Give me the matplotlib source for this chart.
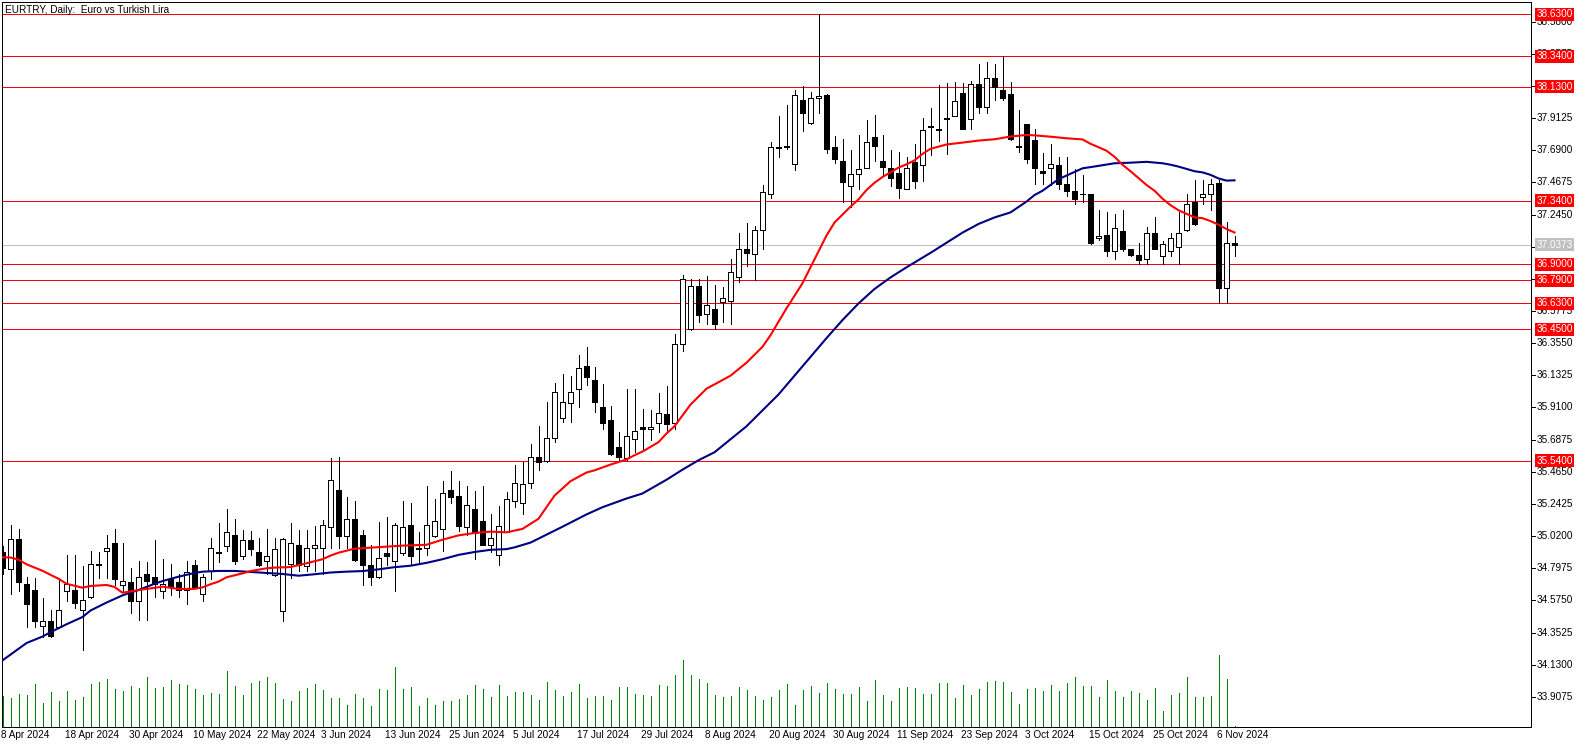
import numpy as np
import pandas as pd
import matplotlib
matplotlib.use("Agg")
import matplotlib.pyplot as plt
from matplotlib.transforms import blended_transform_factory

plt.rcParams['font.family'] = ['Liberation Sans', 'DejaVu Sans']

# daily EURTRY candles, 8 Apr 2024 .. 8 Nov 2024 (weekdays)
opens = [34.908, 34.79, 35.00, 34.69, 34.65, 34.40, 34.43, 34.39, 34.64, 34.65,
         34.51, 34.60, 34.83, 34.92, 34.97, 34.68, 34.70, 34.57, 34.76, 34.735,
         34.64, 34.72, 34.70, 34.65, 34.82, 34.62, 34.78, 34.91, 34.95, 35.03,
         34.88, 34.99, 34.91, 34.85, 34.75, 34.50, 34.83, 34.96, 34.81, 34.94,
         34.94, 35.085, 35.34, 35.02, 35.14, 35.03, 34.82, 34.74, 34.905, 34.85,
         34.90, 35.10, 34.93, 34.94, 35.02, 35.07, 35.34, 35.30, 35.08, 35.21,
         35.125, 34.955, 34.89, 35.05, 35.26, 35.25, 35.385, 35.565, 35.54, 35.70,
         35.84, 35.94, 36.035, 36.20, 36.10, 35.91, 35.82, 35.635, 35.56, 35.69,
         35.775, 35.76, 35.805, 35.865, 35.80, 36.35, 36.45, 36.75, 36.56, 36.59,
         36.64, 36.65, 36.81, 37.005, 36.97, 37.14, 37.39, 37.71, 37.71, 37.595,
         38.04, 37.88, 38.05, 38.075, 37.71, 37.615, 37.44, 37.525, 37.565, 37.78,
         37.615, 37.57, 37.53, 37.42, 37.61, 37.585, 37.85, 37.83, 37.91, 37.93,
         38.085, 37.905, 38.15, 37.99, 38.19, 38.105, 38.08, 37.72, 37.87, 37.76,
         37.547, 37.57, 37.59, 37.46, 37.405, 37.39, 37.39, 37.08, 37.105, 36.995,
         37.13, 37.005, 36.965, 36.935, 37.115, 36.96, 36.99, 37.02, 37.135, 37.33,
         37.365, 37.385, 37.465, 36.735, 37.046]
highs = [34.95, 35.10, 35.07, 34.74, 34.73, 34.59, 34.51, 34.73, 34.89, 34.89,
         34.81, 34.92, 34.91, 35.03, 35.07, 34.97, 34.80, 34.85, 34.84, 34.99,
         34.86, 34.825, 34.76, 34.85, 34.855, 34.76, 35.01, 35.11, 35.21, 35.14,
         35.06, 35.055, 35.01, 35.07, 35.005, 35.01, 35.11, 35.06, 35.06, 35.09,
         35.13, 35.56, 35.57, 35.29, 35.26, 35.06, 34.96, 35.115, 35.155, 35.11,
         35.26, 35.25, 35.05, 35.37, 35.28, 35.40, 35.47, 35.40, 35.37, 35.33,
         35.37, 35.17, 35.23, 35.325, 35.51, 35.535, 35.66, 35.78, 35.95, 36.08,
         36.14, 36.13, 36.27, 36.33, 36.19, 36.07, 35.92, 35.74, 36.035, 36.04,
         35.90, 35.89, 36.01, 36.06, 36.42, 36.83, 36.80, 36.80, 36.82, 36.76,
         36.745, 36.94, 37.12, 37.185, 37.165, 37.45, 37.745, 37.93, 38.00, 38.105,
         38.135, 38.09, 38.63, 38.08, 37.79, 37.765, 37.69, 37.795, 37.90, 37.935,
         37.795, 37.69, 37.68, 37.64, 37.73, 37.91, 37.98, 38.14, 38.155, 38.165,
         38.155, 38.17, 38.29, 38.30, 38.29, 38.34, 38.165, 37.97, 37.875, 37.835,
         37.67, 37.73, 37.64, 37.64, 37.56, 37.52, 37.39, 37.28, 37.26, 37.25,
         37.28, 37.01, 37.045, 37.16, 37.225, 37.06, 37.12, 37.265, 37.39, 37.485,
         37.485, 37.49, 37.485, 37.195, 37.10]
lows = [34.76, 34.62, 34.64, 34.39, 34.39, 34.32, 34.32, 34.385, 34.57, 34.52,
        34.23, 34.59, 34.73, 34.73, 34.68, 34.64, 34.49, 34.44, 34.44, 34.60,
        34.59, 34.61, 34.60, 34.55, 34.66, 34.57, 34.72, 34.84, 34.92, 34.825,
        34.86, 34.89, 34.81, 34.756, 34.746, 34.43, 34.73, 34.78, 34.78, 34.78,
        34.76, 34.94, 34.94, 34.94, 34.85, 34.68, 34.68, 34.73, 34.82, 34.64,
        34.89, 34.82, 34.83, 34.89, 35.015, 34.92, 35.25, 35.055, 35.03, 34.86,
        34.955, 34.91, 34.82, 35.045, 35.22, 35.17, 35.35, 35.48, 35.535, 35.67,
        35.81, 35.81, 35.915, 36.065, 35.88, 35.76, 35.58, 35.545, 35.55, 35.60,
        35.615, 35.685, 35.74, 35.74, 35.76, 36.30, 36.445, 36.50, 36.49, 36.45,
        36.50, 36.49, 36.78, 36.89, 36.79, 37.005, 37.36, 37.64, 37.70, 37.55,
        37.825, 37.875, 37.95, 37.67, 37.605, 37.33, 37.30, 37.42, 37.565, 37.615,
        37.51, 37.44, 37.36, 37.42, 37.43, 37.48, 37.66, 37.755, 37.665, 37.93,
        37.835, 37.84, 37.95, 37.945, 38.035, 38.035, 37.76, 37.68, 37.60, 37.46,
        37.46, 37.45, 37.42, 37.375, 37.32, 37.33, 37.04, 37.07, 36.955, 36.94,
        36.99, 36.96, 36.90, 36.90, 37.005, 36.90, 36.955, 36.90, 37.13, 37.17,
        37.32, 37.28, 36.63, 36.63, 36.96]
closes = [34.802, 35.00, 34.70, 34.55, 34.43, 34.43, 34.33, 34.51, 34.69, 34.56,
          34.58, 34.83, 34.82, 34.94, 34.72, 34.71, 34.57, 34.735, 34.71, 34.69,
          34.69, 34.67, 34.65, 34.77, 34.67, 34.74, 34.94, 34.90, 35.05, 34.85,
          34.99, 34.93, 34.82, 34.88, 34.93, 35.00, 34.97, 34.82, 34.94, 34.96,
          35.095, 35.41, 35.02, 35.14, 34.855, 34.82, 34.74, 34.87, 34.88, 35.10,
          35.08, 34.88, 34.94, 35.10, 35.125, 35.32, 35.29, 35.09, 35.235, 35.04,
          34.96, 35.01, 35.09, 35.28, 35.39, 35.38, 35.565, 35.53, 35.70, 36.015,
          35.945, 36.015, 36.18, 36.12, 35.945, 35.80, 35.59, 35.57, 35.71, 35.745,
          35.76, 35.775, 35.875, 35.795, 36.35, 36.80, 36.75, 36.55, 36.62, 36.49,
          36.665, 36.845, 37.005, 36.98, 37.14, 37.40, 37.71, 37.705, 37.72, 38.07,
          37.945, 38.05, 38.065, 37.70, 37.63, 37.47, 37.525, 37.56, 37.745, 37.72,
          37.575, 37.50, 37.43, 37.57, 37.48, 37.83, 37.86, 37.84, 37.905, 38.03,
          37.84, 38.15, 37.99, 38.19, 38.13, 38.05, 37.765, 37.715, 37.63, 37.57,
          37.535, 37.595, 37.46, 37.41, 37.35, 37.385, 37.045, 37.10, 36.995, 37.155,
          37.01, 36.965, 36.93, 37.12, 37.01, 37.04, 37.08, 37.12, 37.32, 37.18,
          37.39, 37.46, 36.74, 37.045, 37.037]
volumes = [900, 840, 970, 930, 1240, 690, 1020, 750, 1050, 780,
           870, 1240, 1320, 1410, 1110, 1050, 1200, 1140, 1470, 1140,
           1170, 1380, 1260, 1230, 1110, 930, 990, 960, 1620, 1200,
           930, 1290, 1350, 1470, 1290, 810, 750, 1050, 1140, 1260,
           1080, 840, 840, 630, 960, 840, 600, 1110, 1080, 1740,
           1110, 1170, 600, 840, 630, 750, 750, 810, 930, 1230,
           1110, 870, 1230, 900, 1020, 1020, 930, 780, 1320, 1080,
           900, 1020, 1260, 840, 900, 900, 780, 1170, 1170, 960,
           930, 900, 1230, 1200, 1530, 1950, 1530, 1410, 1290, 930,
           870, 900, 1170, 1080, 900, 780, 870, 1080, 1260, 630,
           1080, 1200, 990, 1290, 1110, 960, 960, 1170, 750, 1380,
           930, 750, 1140, 1170, 1140, 960, 960, 1290, 1290, 840,
           1230, 930, 1110, 1320, 1350, 1320, 1020, 660, 1110, 1140,
           1050, 1230, 1050, 1290, 1470, 1200, 1200, 870, 1380, 1050,
           870, 1050, 990, 780, 1140, 480, 930, 990, 1470, 870,
           870, 900, 2100, 1410, 30]

# moving averages, read at these bar numbers
ma_fast_bars = [0, 1, 2, 3, 5, 6, 7, 8, 10, 11, 13, 14, 15, 17, 19, 20, 22, 24, 25, 26,
                27, 28, 30, 31, 33, 34, 36, 38, 40, 41, 42, 44, 46, 48, 50, 53, 55, 57, 59, 61,
                63, 65, 67, 69, 71, 73, 74, 76, 78, 79, 80, 82, 83, 84, 86, 88, 91, 93, 95, 96,
                98, 100, 101, 102, 103, 104, 106, 107, 108, 109, 110, 112, 113, 114, 115, 116, 118, 120, 122, 124,
                126, 128, 129, 131, 133, 135, 136, 138, 139, 140, 141, 143, 144, 145, 146, 147, 148, 149, 150, 151,
                152, 153, 154]
ma_fast_vals = [34.873, 34.872, 34.857, 34.825, 34.78, 34.752, 34.725, 34.69, 34.663, 34.675,
                34.682, 34.668, 34.628, 34.647, 34.662, 34.670, 34.654, 34.655, 34.665, 34.687,
                34.705, 34.735, 34.762, 34.778, 34.797, 34.802, 34.806, 34.832, 34.86, 34.885,
                34.905, 34.933, 34.94, 34.947, 34.954, 34.96, 34.995, 35.025, 35.042, 35.051,
                35.046, 35.07, 35.14, 35.30, 35.40, 35.46, 35.475, 35.515, 35.55, 35.58,
                35.605, 35.67, 35.73, 35.78, 35.93, 36.04, 36.13, 36.22, 36.33, 36.41,
                36.596, 36.77, 36.88, 36.99, 37.10, 37.19, 37.30, 37.35, 37.415, 37.465,
                37.505, 37.57, 37.593, 37.62, 37.665, 37.70, 37.73, 37.743, 37.757, 37.766,
                37.785, 37.796, 37.793, 37.784, 37.773, 37.765, 37.735, 37.687, 37.645, 37.59,
                37.545, 37.45, 37.41, 37.355, 37.31, 37.275, 37.25, 37.226, 37.22, 37.20,
                37.175, 37.145, 37.121]
ma_slow_bars = [0, 2, 3, 5, 6, 8, 10, 11, 13, 15, 17, 19, 20, 22, 24, 25, 27, 29, 31, 33,
                35, 37, 39, 41, 43, 45, 47, 49, 51, 53, 55, 57, 59, 61, 63, 64, 66, 68, 70, 73,
                75, 78, 80, 83, 85, 87, 89, 91, 93, 95, 97, 99, 101, 103, 105, 107, 109, 111, 113, 116,
                118, 120, 122, 124, 126, 128, 129, 130, 132, 134, 135, 137, 139, 141, 143, 145, 146, 147, 149, 150,
                151, 152, 153, 154]
ma_slow_vals = [34.16, 34.24, 34.28, 34.325, 34.355, 34.41, 34.46, 34.505, 34.56, 34.61,
                34.647, 34.69, 34.709, 34.739, 34.765, 34.774, 34.779, 34.779, 34.772, 34.765,
                34.758, 34.746, 34.756, 34.768, 34.774, 34.778, 34.79, 34.805, 34.815, 34.835,
                34.86, 34.89, 34.91, 34.925, 34.93, 34.942, 34.975, 35.03, 35.085, 35.17,
                35.22, 35.28, 35.315, 35.41, 35.48, 35.545, 35.60, 35.69, 35.78, 35.89,
                36.0, 36.13, 36.26, 36.39, 36.515, 36.63, 36.73, 36.81, 36.88, 36.98,
                37.05, 37.12, 37.18, 37.225, 37.26, 37.335, 37.38, 37.41, 37.49, 37.54,
                37.565, 37.582, 37.60, 37.604, 37.61, 37.60, 37.59, 37.577, 37.545, 37.537,
                37.52, 37.495, 37.48, 37.482]

levels = [38.63, 38.34, 38.13, 37.34, 36.90, 36.79, 36.63, 36.45, 35.54]
last_price = 37.0373
price_ticks = [38.5800, 38.3575, 38.1350, 37.9125, 37.6900, 37.4675, 37.2450, 37.0225,
               36.8000, 36.5775, 36.3550, 36.1325, 35.9100, 35.6875, 35.4650, 35.2425,
               35.0200, 34.7975, 34.5750, 34.3525, 34.1300, 33.9075]

dates = pd.bdate_range("2024-04-08", periods=len(opens))
x = np.arange(len(opens))

W, H = 1586, 748
L, R, T, B = 2, 1531, 2, 727
PX = 0.72  # one pixel in points at dpi 100
fig = plt.figure(figsize=(W / 100, H / 100), dpi=100)
fig.patch.set_facecolor('white')
rect = [L / W, 1 - B / H, (R - L) / W, (B - T) / H]

vax = fig.add_axes(rect, zorder=0)
ax = fig.add_axes(rect, zorder=1)
ax.patch.set_visible(False)

xlim = ((L - 2.5) / 8, (R - 2.5) / 8)
ax.set_xlim(*xlim)
ax.set_ylim(33.699, 38.716)
vax.set_xlim(*xlim)
vax.set_ylim(0, max(volumes) * 725 / 72)
vax.axis('off')

vax.vlines(x, 0, volumes, color='#008000', lw=PX, antialiased=False)

for lvl in levels:
    ax.axhline(lvl, color='red', lw=PX, zorder=1, antialiased=False)
ax.axhline(last_price, color='#c0c0c0', lw=PX, zorder=1, antialiased=False)

opens_a = np.array(opens)
closes_a = np.array(closes)
up = closes_a >= opens_a
ax.vlines(x, lows, highs, color='black', lw=PX, zorder=3, antialiased=False)
bottoms = np.minimum(opens_a, closes_a)
heights = np.maximum(np.abs(closes_a - opens_a), 0.004)
ax.bar(x, heights, bottom=bottoms, width=0.6,
       color=np.where(up, 'white', 'black'), edgecolor='black', lw=PX,
       zorder=4, antialiased=False)

ax.plot(ma_slow_bars, ma_slow_vals, color='#000080', lw=1.5, zorder=5)
ax.plot(ma_fast_bars, ma_fast_vals, color='#ff0000', lw=1.5, zorder=5)

ax.set_xticks([])
ax.set_yticks([])
for s in ax.spines.values():
    s.set_linewidth(PX)
    s.set_color('black')

# right price scale
tr = blended_transform_factory(ax.transAxes, ax.transData)
for p in price_ticks:
    ax.plot([1, 1 + 4 / (R - L)], [p, p], color='black', lw=PX, transform=tr,
            clip_on=False, zorder=6, antialiased=False)
    ax.annotate(f"{p:.4f}", xy=(1, p), xycoords=tr, xytext=(3.9, 0),
                textcoords='offset points', va='center', ha='left',
                fontsize=7.2, color='black', zorder=6)
for lvl in levels:
    ax.annotate(f"{lvl:.4f}", xy=(1, lvl), xycoords=tr, xytext=(3.9, 0),
                textcoords='offset points', va='center', ha='left',
                fontsize=7.2, color='white', zorder=8,
                bbox=dict(boxstyle='square,pad=0.15', fc='red', ec='none'))
ax.annotate(f"{last_price:.4f}", xy=(1, last_price), xycoords=tr, xytext=(3.9, 0),
            textcoords='offset points', va='center', ha='left',
            fontsize=7.2, color='white', zorder=8,
            bbox=dict(boxstyle='square,pad=0.15', fc='#c0c0c0', ec='none'))

# date scale
trx = blended_transform_factory(ax.transData, ax.transAxes)
for i in range(0, len(dates), 8):
    d = dates[i]
    ax.annotate(f"{d.day} {d:%b %Y}", xy=(i - 0.2, 0), xycoords=trx,
                xytext=(0, -2.5), textcoords='offset points', va='top', ha='left',
                fontsize=7.2, color='black')

fig.text(5 / W, 1 - 10 / H, "EURTRY, Daily:  Euro vs Turkish Lira",
         fontsize=7.2, va='center', ha='left', color='black')

fig.savefig("out.png", dpi=100, facecolor='white')
